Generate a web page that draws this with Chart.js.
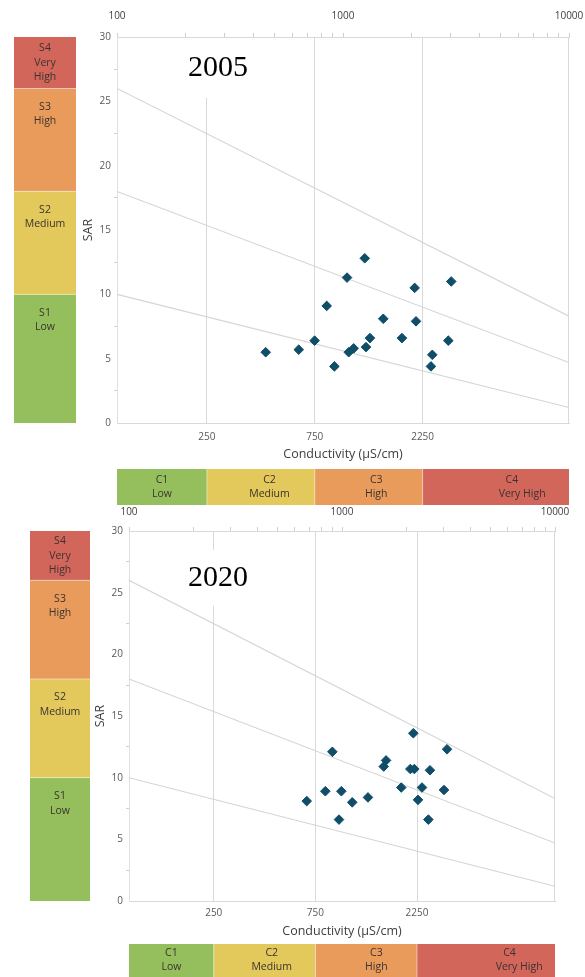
<!DOCTYPE html>
<html>
<head>
<meta charset="utf-8">
<script src="https://cdn.jsdelivr.net/npm/chart.js@4/dist/chart.umd.min.js"></script>
<style>
  html, body { margin: 0; padding: 0; background: #fff; }
  #wrap { position: relative; width: 585px; height: 977px; overflow: hidden; }
  canvas { position: absolute; left: 0; }
</style>
</head>
<body>
<div id="wrap">
  <canvas id="c2005" width="585" height="510" style="top:0px"></canvas>
  <canvas id="c2020" width="585" height="472" style="top:505px"></canvas>
</div>
<script>
// Electrical conductivity (µS/cm) and sodium adsorption ratio of each sample
const ec2005  = [455, 637, 749, 847, 916, 1042, 1060, 1115, 1248, 1264, 1316, 1507, 1823, 2075, 2104, 2450, 2484, 2924, 3013];
const sar2005 = [5.5, 5.7, 6.4, 9.1, 4.4, 11.3, 5.5, 5.8, 12.8, 5.9, 6.6, 8.1, 6.6, 10.5, 7.9, 4.4, 5.3, 6.4, 11.0];
const ec2020  = [683, 835, 901, 968, 993, 1117, 1324, 1570, 1610, 1898, 2093, 2162, 2185, 2274, 2375, 2543, 2588, 3012, 3113];
const sar2020 = [8.1, 8.9, 12.1, 6.6, 8.9, 8.0, 8.4, 10.9, 11.4, 9.2, 10.7, 13.6, 10.7, 8.2, 9.2, 6.6, 10.6, 9.0, 12.3];

// Sodium hazard class boundaries, straight lines on the log conductivity axis
const boundaryEC   = [100, 10000];
const boundaryS1S2 = [10, 1.2];
const boundaryS2S3 = [18, 4.7];
const boundaryS3S4 = [26, 8.3];

// Salinity (C) and sodium (S) hazard classes
const salinityBounds = [100, 250, 750, 2250, 10000];
const salinityLabels = [['C1', 'Low'], ['C2', 'Medium'], ['C3', 'High'], ['C4', 'Very High']];
const sodiumBounds   = [0, 10, 18, 26, 30];
const sodiumLabels   = [['S1', 'Low'], ['S2', 'Medium'], ['S3', 'High'], ['S4', 'Very', 'High']];
const classColors    = ['#94bf5c', '#e3c85c', '#e99b5c', '#d2665b'];

// Axis ticks
const bottomTicks = [250, 750, 2250];
const topTicks    = [100, 200, 300, 400, 500, 600, 700, 800, 900,
                     1000, 2000, 3000, 4000, 5000, 6000, 7000, 8000, 9000, 10000];
const topLabels   = [100, 1000, 10000];
const sarTicks    = [0, 2.5, 5, 7.5, 10, 12.5, 15, 17.5, 20, 22.5, 25, 27.5, 30];

const LABEL_FONT = "'Open Sans', sans-serif";

// Draws the hazard class bars beside the axes, the plot frame and the year tag
const hazardBands = {
  id: 'hazardBands',
  beforeDatasetsDraw(chart, args, o) {
    const { ctx, chartArea: a } = chart;
    ctx.save();
    // right-hand frame line
    ctx.strokeStyle = '#d9d9d9';
    ctx.lineWidth = 1;
    ctx.beginPath();
    ctx.moveTo(a.right - 0.5, a.top);
    ctx.lineTo(a.right - 0.5, a.bottom);
    ctx.stroke();
    // year tag on a white box
    ctx.fillStyle = '#ffffff';
    ctx.fillRect(a.left + o.box[0], a.top + o.box[1], o.box[2], o.box[3]);
    ctx.fillStyle = '#000000';
    ctx.font = "30px 'Liberation Serif', 'Times New Roman', serif";
    ctx.textAlign = 'center';
    ctx.textBaseline = 'middle';
    ctx.fillText(o.year, a.left + o.yearPos[0], a.top + o.yearPos[1]);
    ctx.restore();
  },
  afterDraw(chart, args, o) {
    const { ctx, scales: { x, y } } = chart;
    ctx.save();
    ctx.font = '10.5px ' + LABEL_FONT;
    ctx.textAlign = 'center';
    ctx.textBaseline = 'middle';
    const lh = o.lineH;
    // sodium hazard bar (aligned with the SAR axis)
    for (let i = 0; i < sodiumLabels.length; i++) {
      const top = y.getPixelForValue(sodiumBounds[i + 1]);
      const bot = y.getPixelForValue(sodiumBounds[i]);
      ctx.fillStyle = classColors[i];
      ctx.fillRect(o.sBar[0], top, o.sBar[1] - o.sBar[0], bot - top);
      if (i > 0) {
        ctx.fillStyle = 'rgba(255,255,255,0.45)';
        ctx.fillRect(o.sBar[0], bot - 0.5, o.sBar[1] - o.sBar[0], 1);
      }
      const lines = sodiumLabels[i];
      const mid = (top + bot) / 2;
      const start = Math.min(top + o.sTextTop, mid - (lines.length - 1) * lh / 2);
      ctx.fillStyle = '#3a3330';
      const cx = (o.sBar[0] + o.sBar[1]) / 2;
      lines.forEach((t, k) => ctx.fillText(t, cx, start + k * lh));
    }
    // salinity hazard bar (aligned with the conductivity axis)
    for (let i = 0; i < salinityLabels.length; i++) {
      const l = x.getPixelForValue(salinityBounds[i]);
      const r = x.getPixelForValue(salinityBounds[i + 1]);
      ctx.fillStyle = classColors[i];
      ctx.fillRect(l, o.cBar[0], r - l, o.cBar[1] - o.cBar[0]);
      if (i > 0) {
        ctx.fillStyle = 'rgba(255,255,255,0.45)';
        ctx.fillRect(l - 0.5, o.cBar[0], 1, o.cBar[1] - o.cBar[0]);
      }
      const lines = salinityLabels[i];
      const cx = (l + r) / 2 + (r - l) * o.cShift[i];
      ctx.fillStyle = '#3a3330';
      ctx.fillText(lines[0], cx, o.cBar[0] + o.cTextTop);
      ctx.fillText(lines[1], cx + (r - l) * o.cShift2[i], o.cBar[0] + o.cTextTop + lh);
    }
    ctx.restore();
  }
};

function makeChart(id, ec, sar, g) {
  const points = ec.map((v, i) => ({ x: v, y: sar[i] }));
  const boundary = (vals) => boundaryEC.map((v, i) => ({ x: v, y: vals[i] }));
  const lineStyle = {
    type: 'line', showLine: true, pointRadius: 0, borderColor: '#d4d4d4',
    borderWidth: 1.1, fill: false, tension: 0
  };
  return new Chart(document.getElementById(id), {
    type: 'scatter',
    data: {
      datasets: [
        {
          data: points, pointStyle: 'rectRot', pointRadius: 4.8,
          backgroundColor: '#0f4d68', borderColor: '#0f4d68', borderWidth: 1
        },
        Object.assign({ data: boundary(boundaryS1S2) }, lineStyle),
        Object.assign({ data: boundary(boundaryS2S3) }, lineStyle),
        Object.assign({ data: boundary(boundaryS3S4) }, lineStyle)
      ]
    },
    options: {
      responsive: false,
      animation: false,
      events: [],
      layout: { padding: g.padding, autoPadding: false },
      plugins: {
        legend: { display: false },
        tooltip: { enabled: false },
        hazardBands: g.bands
      },
      scales: {
        x: {
          type: 'logarithmic', position: 'bottom', min: 100, max: 10000,
          afterBuildTicks: (s) => { s.ticks = bottomTicks.map(v => ({ value: v })); },
          afterFit: (s) => { s.height = g.xHeight; },
          ticks: {
            autoSkip: false, maxRotation: 0, padding: g.xTickPad,
            color: '#595959', font: { family: LABEL_FONT, size: 10 },
            callback: (v) => String(v)
          },
          grid: { color: '#d9d9d9', lineWidth: 1, drawTicks: false },
          border: { display: true, color: '#d9d9d9' },
          title: {
            display: true, text: 'Conductivity (μS/cm)', color: '#404040',
            font: { family: LABEL_FONT, size: 12.5 }, padding: { top: 0, bottom: g.xTitlePad }
          }
        },
        x2: {
          type: 'logarithmic', position: 'top', min: 100, max: 10000,
          afterBuildTicks: (s) => { s.ticks = topTicks.map(v => ({ value: v })); },
          afterFit: (s) => { s.height = g.topHeight; },
          ticks: {
            autoSkip: false, maxRotation: 0, padding: 1,
            color: '#404040', font: { family: LABEL_FONT, size: 10, lineHeight: g.topLineHeight },
            callback: (v) => topLabels.includes(v) ? String(v) : ''
          },
          grid: { drawOnChartArea: false, drawTicks: true, tickLength: 4, tickColor: '#cfcfcf' },
          border: { display: true, color: '#d9d9d9' }
        },
        y: {
          type: 'linear', position: 'left', min: 0, max: 30,
          afterBuildTicks: (s) => { s.ticks = sarTicks.map(v => ({ value: v })); },
          afterFit: (s) => { s.width = g.yWidth; },
          ticks: {
            autoSkip: false, padding: 3,
            color: '#595959', font: { family: LABEL_FONT, size: 10 },
            callback: (v) => (v % 5 === 0 ? String(v) : '')
          },
          grid: {
            drawOnChartArea: false, drawTicks: true, tickLength: 3,
            tickColor: (c) => (c.tick && c.tick.value % 5 !== 0 ? '#d0d0d0' : 'rgba(0,0,0,0)')
          },
          border: { display: true, color: '#e0e0e0' },
          title: {
            display: true, text: 'SAR', color: '#404040',
            font: { family: LABEL_FONT, size: 12.5 }, padding: { top: 0, bottom: 0 }
          }
        }
      }
    },
    plugins: [hazardBands]
  });
}

makeChart('c2005', ec2005, sar2005, {
  padding: { left: 81, right: 16, top: 0, bottom: 43 },
  xHeight: 44, xTickPad: 8, xTitlePad: 5,
  topHeight: 37, topLineHeight: 3.2,
  yWidth: 36,
  bands: {
    year: '2005', yearPos: [101, 31], box: [48, 1, 135, 60],
    sBar: [14, 76], sTextTop: 18.5, lineH: 14.5,
    cBar: [469, 505], cTextTop: 11, cShift: [0, 0.08, 0.07, 0.11], cShift2: [0, 0, 0, 0.07]
  }
});

makeChart('c2020', ec2020, sar2020, {
  padding: { left: 93, right: 30, top: 0, bottom: 36 },
  xHeight: 40, xTickPad: 6, xTitlePad: 2,
  topHeight: 26, topLineHeight: 2.8,
  yWidth: 36,
  bands: {
    year: '2020', yearPos: [89, 47], box: [41, 19, 130, 56],
    sBar: [30, 90], sTextTop: 18.5, lineH: 14.5,
    cBar: [439, 475], cTextTop: 9, cShift: [0, 0.07, 0.1, 0.17], cShift2: [0, 0, 0, 0.07]
  }
});
</script>
</body>
</html>
